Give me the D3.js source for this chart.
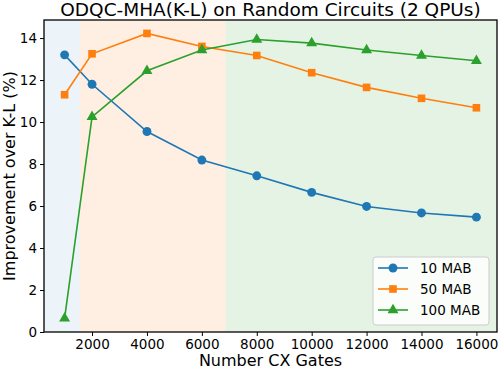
<!DOCTYPE html>
<html>
<head>
<meta charset="utf-8">
<script src="https://cdn.jsdelivr.net/npm/d3@7"></script>
<style>
  body { margin: 0; background: #fff; }
  text { font-family: "DejaVu Sans", sans-serif; fill: #000; }
</style>
</head>
<body>
<svg id="chart" width="498" height="369"></svg>
<script>
const gates = [1000, 2000, 4000, 6000, 8000, 10000, 12000, 14000, 16000];
const mab10 = [13.2, 11.8, 9.55, 8.19, 7.44, 6.65, 5.98, 5.67, 5.47];
const mab50 = [11.3, 13.25, 14.22, 13.6, 13.17, 12.35, 11.65, 11.13, 10.68];
const mab100 = [0.65, 10.25, 12.44, 13.43, 13.93, 13.76, 13.43, 13.17, 12.92];
const seriesNames = ['10 MAB', '50 MAB', '100 MAB'];
const xTicks = [2000, 4000, 6000, 8000, 10000, 12000, 14000, 16000];
const yTicks = [0, 2, 4, 6, 8, 10, 12, 14];
const regionEdges = [250, 1550, 6860, 16750];
const regionColors = ['#1f77b4', '#ff7f0e', '#2ca02c'];
const regionAlpha = [0.085, 0.12, 0.12];

const svg = d3.select('#chart');
const margin = { top: 20, right: 1, bottom: 37, left: 44 };
const width = 498, height = 369;

const x = d3.scaleLinear().domain([250, 16750]).range([margin.left, width - margin.right]);
const y = d3.scaleLinear().domain([0, 14.86]).range([height - margin.bottom, margin.top]);

// shaded regions
svg.selectAll('rect.region')
  .data(regionColors)
  .enter().append('rect')
  .attr('class', 'region')
  .attr('x', (d, i) => x(regionEdges[i]))
  .attr('width', (d, i) => x(regionEdges[i + 1]) - x(regionEdges[i]))
  .attr('y', margin.top)
  .attr('height', height - margin.bottom - margin.top)
  .attr('fill', d => d)
  .attr('fill-opacity', (d, i) => regionAlpha[i]);

const colors = ['#1f77b4', '#ff7f0e', '#2ca02c'];
const series = [mab10, mab50, mab100];
const symbols = [d3.symbolCircle, d3.symbolSquare, d3.symbolTriangle];
const symSizes = [62, 58, 52];

const line = d3.line().x((d, i) => x(gates[i])).y(d => y(d));

series.forEach((vals, s) => {
  svg.append('path')
    .datum(vals)
    .attr('d', line)
    .attr('fill', 'none')
    .attr('stroke', colors[s])
    .attr('stroke-width', 1.6);
  svg.selectAll('.m' + s)
    .data(vals)
    .enter().append('path')
    .attr('class', 'm' + s)
    .attr('transform', (d, i) => `translate(${x(gates[i])},${y(d)})`)
    .attr('d', d3.symbol().type(symbols[s]).size(symSizes[s]))
    .attr('fill', colors[s]);
});

// axes
const xAxis = svg.append('g')
  .attr('transform', `translate(0,${height - margin.bottom})`)
  .call(d3.axisBottom(x).tickValues(xTicks).tickSize(4).tickPadding(3).tickFormat(d3.format('d')));
const yAxis = svg.append('g')
  .attr('transform', `translate(${margin.left},0)`)
  .call(d3.axisLeft(y).tickValues(yTicks).tickSize(4).tickPadding(3));
[xAxis, yAxis].forEach(g => {
  g.select('.domain').remove();
  g.selectAll('text').style('font-size', '13.5px').style('font-family', 'DejaVu Sans');
  g.selectAll('line').attr('stroke', '#000');
});

// frame
svg.append('rect')
  .attr('x', margin.left)
  .attr('y', margin.top)
  .attr('width', width - margin.right - margin.left)
  .attr('height', height - margin.bottom - margin.top)
  .attr('fill', 'none')
  .attr('stroke', '#000')
  .attr('stroke-width', 1.3);

// labels
svg.append('text')
  .attr('x', (margin.left + width - margin.right) / 2)
  .attr('y', 16)
  .attr('text-anchor', 'middle')
  .style('font-size', '18.5px')
  .text('ODQC-MHA(K-L) on Random Circuits (2 QPUs)');

svg.append('text')
  .attr('x', (margin.left + width - margin.right) / 2)
  .attr('y', 366)
  .attr('text-anchor', 'middle')
  .style('font-size', '16px')
  .text('Number CX Gates');

svg.append('text')
  .attr('transform', `translate(15,${(margin.top + height - margin.bottom) / 2}) rotate(-90)`)
  .attr('text-anchor', 'middle')
  .style('font-size', '16px')
  .text('Improvement over K-L (%)');

// legend
const legend = svg.append('g').attr('transform', 'translate(373,257)');
legend.append('rect')
  .attr('width', 116)
  .attr('height', 68)
  .attr('rx', 3)
  .attr('fill', '#fff')
  .attr('fill-opacity', 0.8)
  .attr('stroke', '#ccc')
  .attr('stroke-width', 1);
seriesNames.forEach((name, i) => {
  const item = legend.append('g').attr('transform', `translate(0,${11 + i * 21})`);
  item.append('line')
    .attr('x1', 5).attr('x2', 35)
    .attr('stroke', colors[i]).attr('stroke-width', 1.6);
  item.append('path')
    .attr('transform', 'translate(20,0)')
    .attr('d', d3.symbol().type(symbols[i]).size(symSizes[i]))
    .attr('fill', colors[i]);
  item.append('text')
    .attr('x', 47)
    .attr('dy', '0.35em')
    .style('font-size', '13.5px')
    .text(name);
});
</script>
</body>
</html>
